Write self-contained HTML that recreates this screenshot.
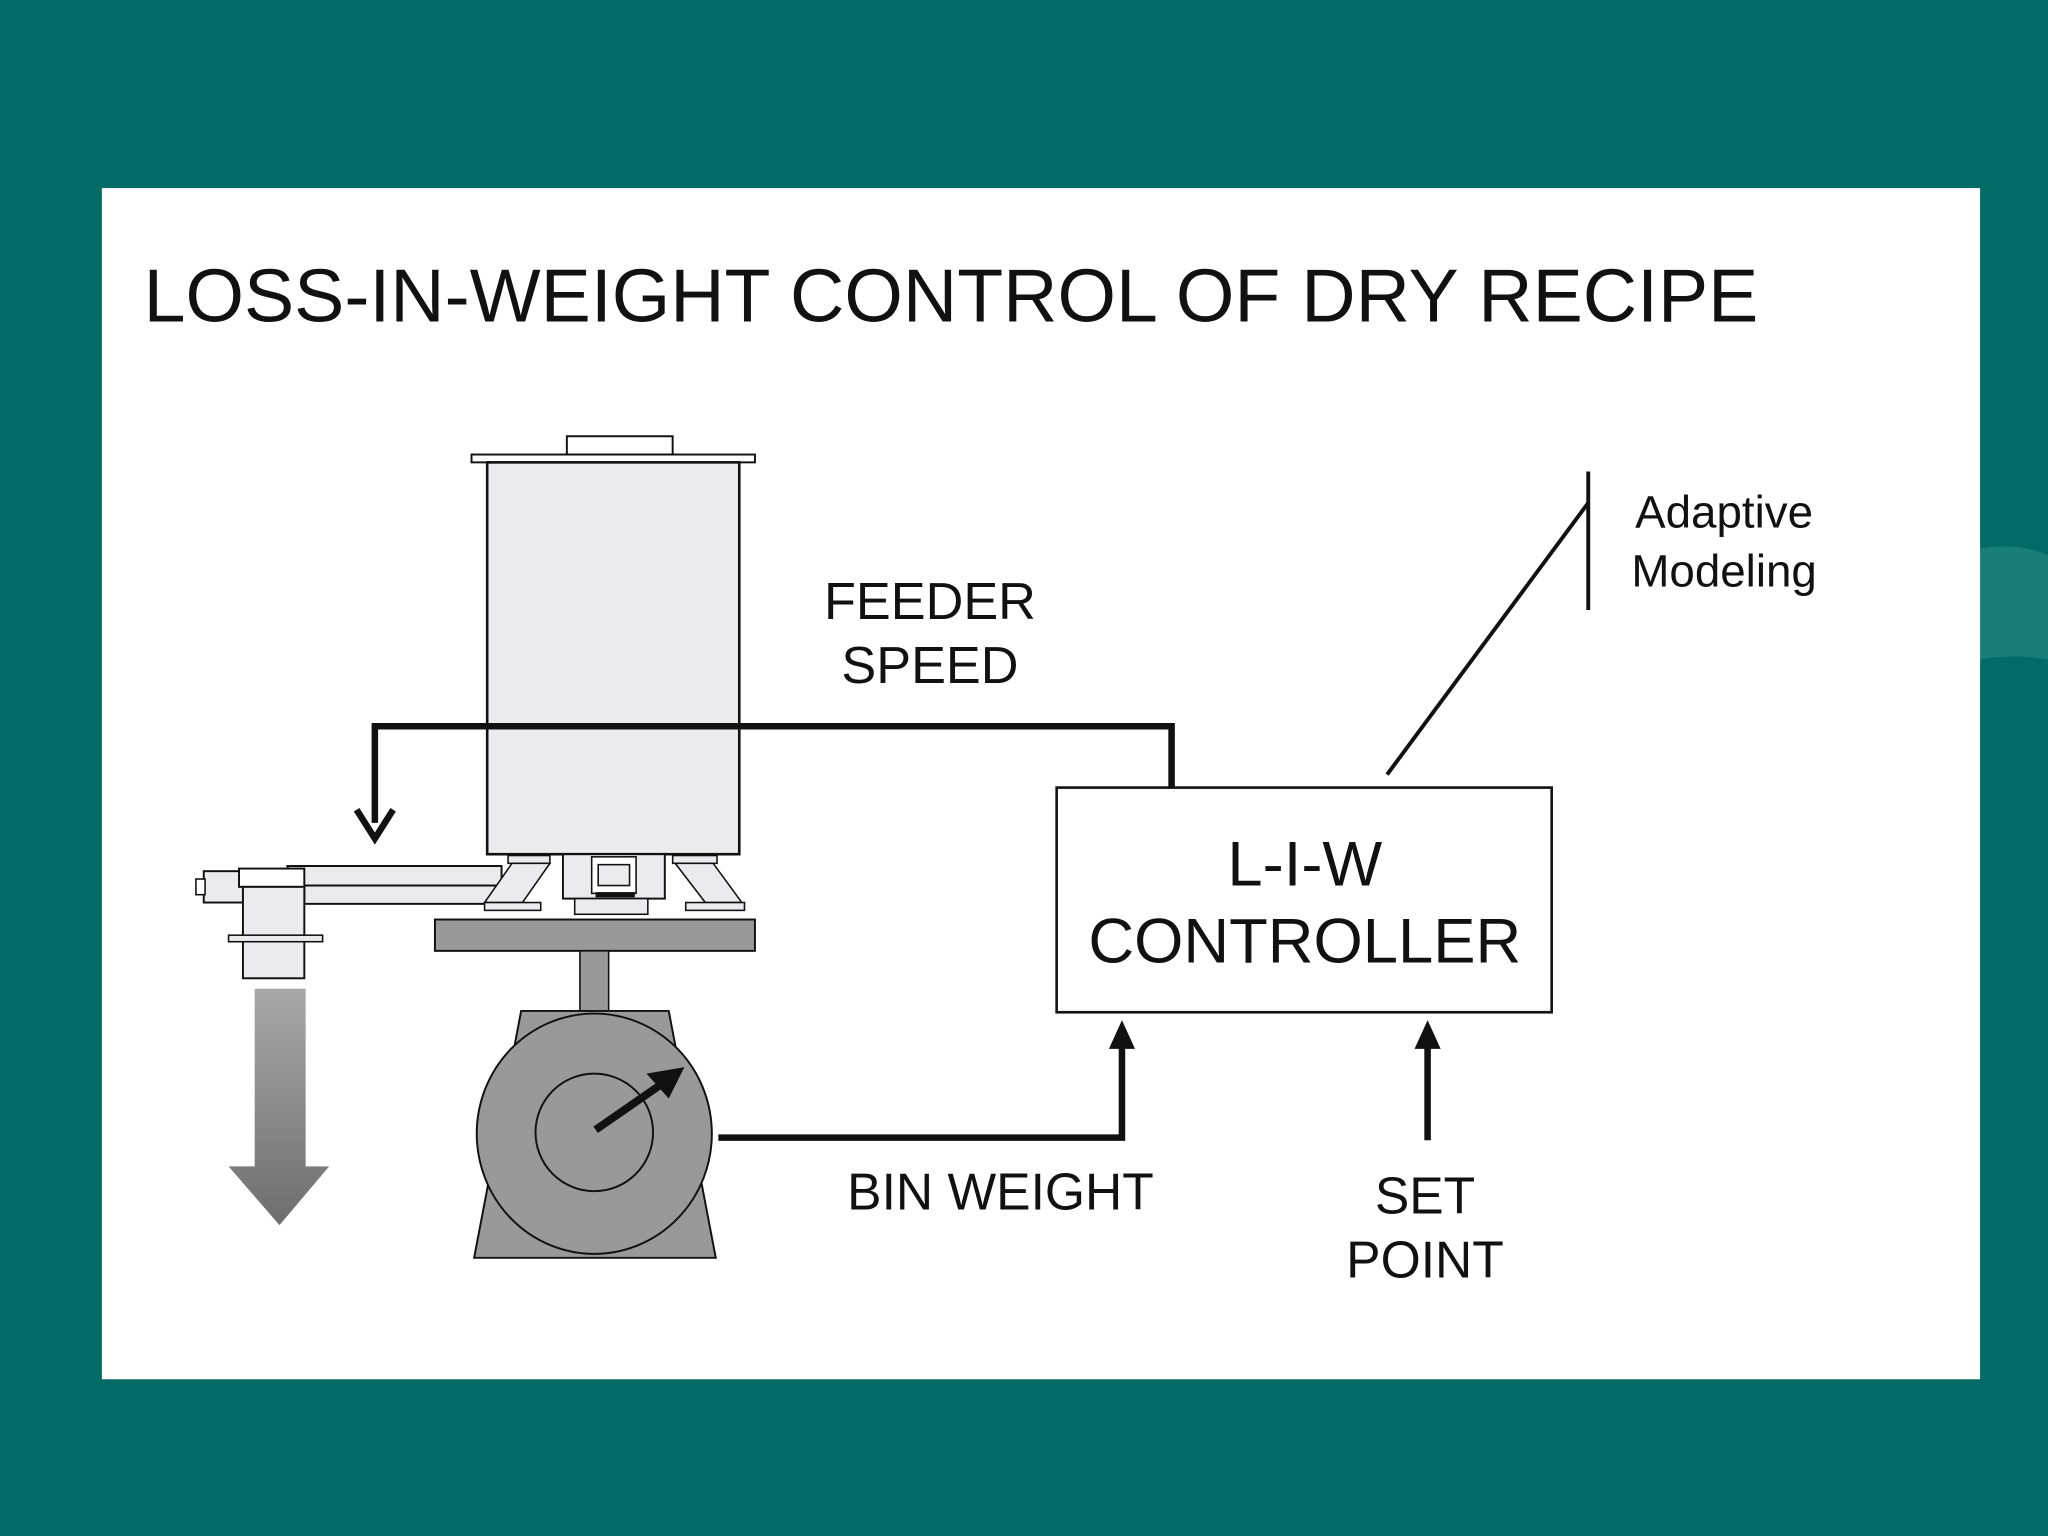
<!DOCTYPE html>
<html><head><meta charset="utf-8"><style>
html,body{margin:0;padding:0;background:#036b66;}
svg{display:block;}
text{font-family:"Liberation Sans",Arial,sans-serif;fill:#111;}
</style></head><body>
<svg width="2048" height="1536" viewBox="0 0 1568 1176" preserveAspectRatio="none" xmlns="http://www.w3.org/2000/svg">
<defs>
<linearGradient id="ga" x1="0" y1="0" x2="0" y2="1">
<stop offset="0" stop-color="#a8a8a8"/><stop offset="1" stop-color="#6e6e6e"/></linearGradient>
</defs>
<rect x="0" y="0" width="1568" height="1176" fill="#036b66"/>
<path d="M1516 420 Q1545 415 1568 425 L1568 505 Q1540 500 1516 505 Z" fill="#2a8a84" opacity="0.6"/>
<rect x="78" y="144" width="1438" height="912" fill="#fff"/>
<text x="110" y="246" font-size="57.6">LOSS-IN-WEIGHT CONTROL OF DRY RECIPE</text>

<!-- hopper -->
<rect x="434" y="334" width="81" height="14" fill="#fff" stroke="#111" stroke-width="1.5"/>
<rect x="361" y="348" width="217" height="6" fill="#fff" stroke="#111" stroke-width="1.5"/>
<rect x="373" y="354" width="193" height="300" fill="#ebebee" stroke="#111" stroke-width="2"/>

<!-- conveyor -->
<path d="M220 663 L384 663 L384 678 L228 678 Q222 670 220 663 Z" fill="#ebebee" stroke="#111" stroke-width="1.5"/>
<rect x="233" y="678" width="147" height="14" fill="#ebebee" stroke="#111" stroke-width="1.5"/>
<rect x="156" y="667" width="30" height="24" fill="#ebebee" stroke="#111" stroke-width="1.5"/>
<rect x="150" y="673" width="7" height="12" fill="#fff" stroke="#111" stroke-width="1.2"/>
<rect x="183" y="665" width="50" height="14" fill="#fff" stroke="#111" stroke-width="1.5"/>
<rect x="186" y="679" width="47" height="70" fill="#ebebee" stroke="#111" stroke-width="1.5"/>
<rect x="175" y="716" width="72" height="5" fill="#ebebee" stroke="#111" stroke-width="1.2"/>
<!-- output arrow -->
<path d="M195 757 L234 757 L234 893 L252 893 L214 938 L175 893 L195 893 Z" fill="url(#ga)"/>

<!-- legs -->
<rect x="389" y="655" width="32" height="6" fill="#ebebee" stroke="#111" stroke-width="1.2"/>
<path d="M392 661 L421 661 L400 691 L371 691 Z" fill="#ebebee" stroke="#111" stroke-width="1.2"/>
<rect x="371" y="691" width="43" height="6" fill="#ebebee" stroke="#111" stroke-width="1.2"/>
<rect x="515" y="655" width="34" height="6" fill="#ebebee" stroke="#111" stroke-width="1.2"/>
<path d="M517 661 L546 661 L568 691 L540 691 Z" fill="#ebebee" stroke="#111" stroke-width="1.2"/>
<rect x="525" y="691" width="45" height="6" fill="#ebebee" stroke="#111" stroke-width="1.2"/>
<!-- center assembly -->
<rect x="431" y="654" width="78" height="34" fill="#ebebee" stroke="#111" stroke-width="1.5"/>
<rect x="453" y="656" width="34" height="28" fill="#fff" stroke="#111" stroke-width="1.2"/>
<rect x="458" y="662" width="24" height="16" fill="#ebebee" stroke="#111" stroke-width="1.2"/>
<rect x="456" y="683" width="30" height="4" fill="#111"/>
<rect x="440" y="688" width="56" height="12" fill="#ebebee" stroke="#111" stroke-width="1.2"/>

<!-- scale -->
<rect x="333" y="704" width="245" height="24" fill="#999" stroke="#111" stroke-width="1.5"/>
<rect x="444" y="728" width="22" height="47" fill="#999" stroke="#111" stroke-width="1.2"/>
<path d="M399 774 L512 774 L548 963 L363 963 Z" fill="#999" stroke="#111" stroke-width="1.5"/>
<ellipse cx="455" cy="868" rx="90" ry="92" fill="#999" stroke="#111" stroke-width="1.5"/>
<circle cx="455" cy="867" r="45" fill="#999" stroke="#111" stroke-width="1.5"/>
<line x1="456" y1="865" x2="508" y2="829" stroke="#111" stroke-width="6"/>
<path d="M524 817 L495 822 L512 841 Z" fill="#111"/>

<!-- feeder speed line -->
<path d="M897 603 L897 556 L287 556 L287 630" fill="none" stroke="#111" stroke-width="5"/>
<path d="M273 620 L287 642 L301 620" fill="none" stroke="#111" stroke-width="5"/>
<text x="712" y="474" font-size="40" text-anchor="middle">FEEDER</text>
<text x="712" y="523" font-size="40" text-anchor="middle">SPEED</text>

<!-- controller -->
<rect x="809" y="603" width="379" height="172" fill="#fff" stroke="#111" stroke-width="2"/>
<text x="999" y="678" font-size="48.5" text-anchor="middle">L-I-W</text>
<text x="999" y="737" font-size="48.5" text-anchor="middle">CONTROLLER</text>

<!-- adaptive -->
<line x1="1062" y1="593" x2="1216" y2="385" stroke="#111" stroke-width="3"/>
<line x1="1216" y1="361" x2="1216" y2="467" stroke="#111" stroke-width="3"/>
<text x="1320" y="404" font-size="35" text-anchor="middle">Adaptive</text>
<text x="1320" y="449" font-size="35" text-anchor="middle">Modeling</text>

<!-- bin weight -->
<path d="M550 871 L859 871 L859 795" fill="none" stroke="#111" stroke-width="5"/>
<path d="M849 803 L859 781 L869 803 Z" fill="#111"/>
<text x="766" y="926" font-size="39.5" text-anchor="middle">BIN WEIGHT</text>

<!-- set point -->
<line x1="1093" y1="873" x2="1093" y2="795" stroke="#111" stroke-width="5"/>
<path d="M1083 803 L1093 781 L1103 803 Z" fill="#111"/>
<text x="1091" y="929" font-size="39.5" text-anchor="middle">SET</text>
<text x="1091" y="978" font-size="39.5" text-anchor="middle">POINT</text>
</svg>
</body></html>
